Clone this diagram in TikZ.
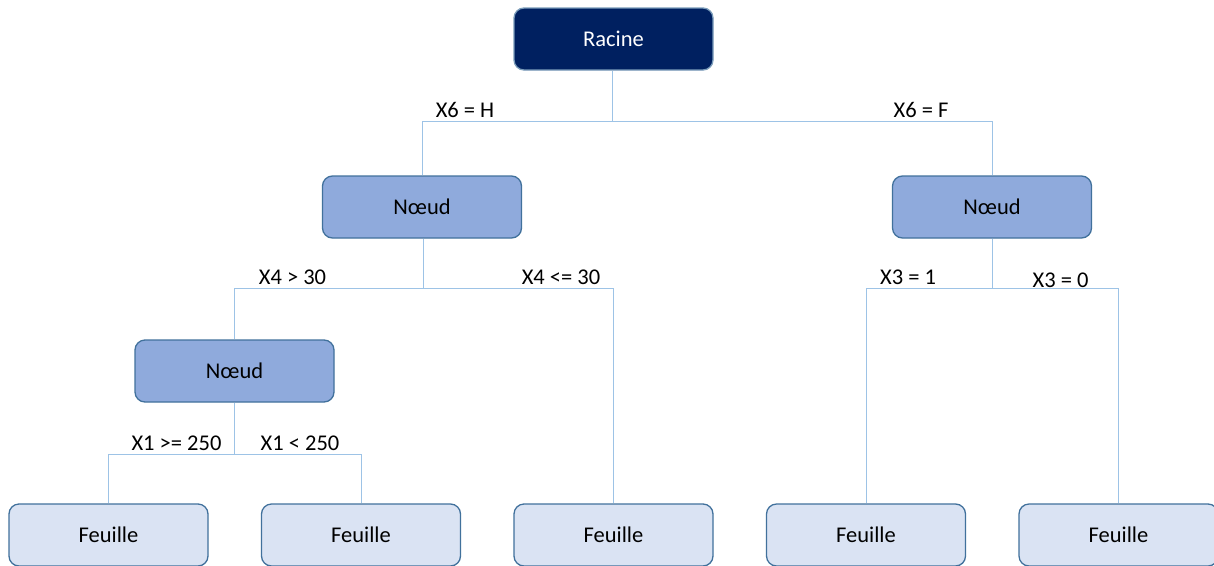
\documentclass[tikz,border=0pt]{standalone}
\usepackage{fontspec}
\setmainfont{Carlito}
\definecolor{navy}{HTML}{002060}
\definecolor{nodefill}{HTML}{8FAADC}
\definecolor{leaffill}{HTML}{DAE3F3}
\definecolor{edgeblue}{HTML}{41719C}
\definecolor{conncol}{HTML}{9DC3E6}
\begin{document}
\begin{tikzpicture}[x=1pt,y=-1pt,
  box/.style={rectangle,rounded corners=10pt,minimum width=199pt,minimum height=62pt,
    draw=edgeblue,line width=1.3pt,font=\fontsize{22.5}{27}\selectfont,inner sep=0pt},
  rootbox/.style={box,fill=navy,text=white,draw=edgeblue!70},
  nodebox/.style={box,fill=nodefill},
  leafbox/.style={box,fill=leaffill},
  conn/.style={draw=conncol,line width=1pt},
  lab/.style={anchor=base,inner sep=0pt,font=\fontsize{22.5}{27}\selectfont}]
\useasboundingbox (0,0) rectangle (1214,565);
\fill[white] (0,0) rectangle (1214,565);
% nodes
\node[rootbox] (root) at (613.5,39) {Racine};
\node[nodebox] (n1) at (422,207) {Nœud};
\node[nodebox] (n2) at (992,207) {Nœud};
\node[nodebox] (n3) at (234.5,371) {Nœud};
\node[leafbox] (f1) at (108.5,535) {Feuille};
\node[leafbox] (f2) at (361,535) {Feuille};
\node[leafbox] (f3) at (613.5,535) {Feuille};
\node[leafbox] (f4) at (866,535) {Feuille};
\node[leafbox] (f5) at (1118.5,535) {Feuille};
% junctions
\coordinate (j0) at (612,121);
\coordinate (j1) at (423,288);
\coordinate (j2) at (992,288);
\coordinate (j3) at (234,454);
% connectors
\begin{scope}[on background layer/.style={}]
\draw[conn] (root.south -| j0) -- (j0);
\draw[conn] (n1.north) -- (n1.north |- j0) -- (n2.north |- j0) -- (n2.north);
\draw[conn] (n1.south -| j1) -- (j1);
\draw[conn] (n3.north) -- (n3.north |- j1) -- (f3.north |- j1) -- (f3.north);
\draw[conn] (n2.south -| j2) -- (j2);
\draw[conn] (f4.north) -- (f4.north |- j2) -- (f5.north |- j2) -- (f5.north);
\draw[conn] (n3.south -| j3) -- (j3);
\draw[conn] (f1.north) -- (f1.north |- j3) -- (f2.north |- j3) -- (f2.north);
\end{scope}
% labels
\node[lab] (l1) at (465,117) {X6 = H};
\node[lab] (l2) at (921,117) {X6 = F};
\node[lab] (l3) at (292.5,284) {X4 > 30};
\node[lab] (l4) at (561,284) {X4 <= 30};
\node[lab] (l5) at (908,284) {X3 = 1};
\node[lab] (l6) at (1060.5,287) {X3 = 0};
\node[lab] (l7) at (176.5,450) {X1 >= 250};
\node[lab] (l8) at (300,450) {X1 < 250};
\end{tikzpicture}
\end{document}
